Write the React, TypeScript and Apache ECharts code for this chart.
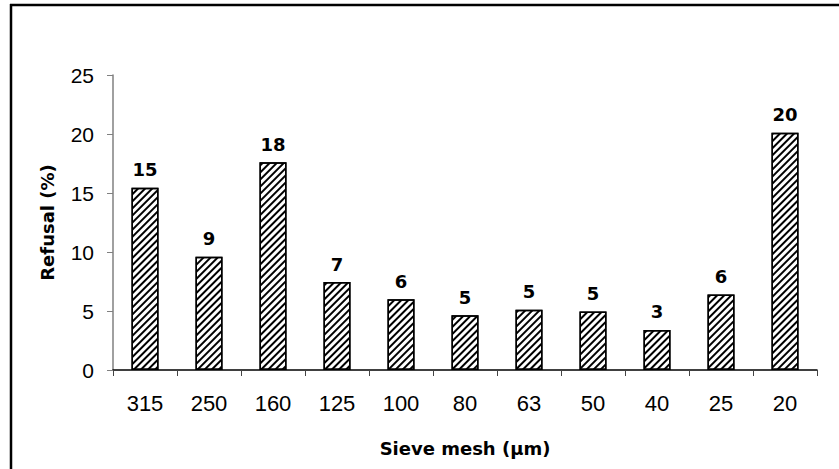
import React, { useEffect, useRef } from "react";
import * as echarts from "echarts";

const categories = ["315", "250", "160", "125", "100", "80", "63", "50", "40", "25", "20"];
const refusalValues = [15.45, 9.6, 17.6, 7.45, 6.0, 4.65, 5.1, 4.95, 3.4, 6.4, 20.1];
const barLabels = ["15", "9", "18", "7", "6", "5", "5", "5", "3", "6", "20"];
const yTicks = { min: 0, max: 25, interval: 5 };

export default function App() {
  const ref = useRef<HTMLDivElement>(null);
  useEffect(() => {
    if (!ref.current) return;
    const chart = echarts.init(ref.current, null, { renderer: "svg" });
    chart.setOption({
      animation: false,
      backgroundColor: "#fff",
      grid: { left: 113, right: 22, top: 75, bottom: 99 },
      graphic: [
        { type: "line", shape: { x1: 10, y1: 5, x2: 839, y2: 5 }, style: { stroke: "#000", lineWidth: 2.5 } },
        { type: "line", shape: { x1: 11, y1: 4, x2: 11, y2: 469 }, style: { stroke: "#000", lineWidth: 2.5 } },
      ],
      xAxis: {
        type: "category",
        data: categories,
        name: "Sieve mesh (µm)",
        nameLocation: "middle",
        nameGap: 69,
        nameTextStyle: { fontFamily: "DejaVu Sans", fontWeight: "bold", fontSize: 18, color: "#000" },
        axisLine: { lineStyle: { color: "#000", width: 1.5 } },
        axisTick: { show: true, length: 6, lineStyle: { color: "#444", width: 1 } },
        axisLabel: { margin: 22, fontFamily: "Liberation Sans, Arial", fontSize: 22, color: "#000" },
      },
      yAxis: {
        type: "value",
        min: yTicks.min,
        max: yTicks.max,
        interval: yTicks.interval,
        name: "Refusal (%)",
        nameLocation: "middle",
        nameGap: 57,
        nameTextStyle: { fontFamily: "DejaVu Sans", fontWeight: "bold", fontSize: 18, color: "#000" },
        splitLine: { show: false },
        axisLine: { show: true, lineStyle: { color: "#808080", width: 1.5 } },
        axisTick: { show: true, length: 6, lineStyle: { color: "#808080", width: 1 } },
        axisLabel: { margin: 19, fontFamily: "Liberation Sans, Arial", fontSize: 21, color: "#000" },
      },
      series: [
        {
          type: "bar",
          data: refusalValues,
          barWidth: 27,
          itemStyle: {
            color: "#fff",
            borderColor: "#000",
            borderWidth: 1.5,
            decal: {
              symbol: "rect",
              symbolSize: 1,
              color: "#000",
              backgroundColor: "#fff",
              dashArrayX: [1, 0],
              dashArrayY: [1.5, 2.2],
              rotation: -Math.PI / 4,
            },
          },
          label: {
            show: true,
            position: "top",
            distance: 9,
            formatter: (p: any) => barLabels[p.dataIndex],
            fontFamily: "DejaVu Sans",
            fontWeight: "bold",
            fontSize: 18,
            color: "#000",
          },
        },
      ],
    });
    return () => chart.dispose();
  }, []);
  return <div ref={ref} style={{ position: "fixed", left: 0, top: 0, width: 839, height: 469 }} />;
}
